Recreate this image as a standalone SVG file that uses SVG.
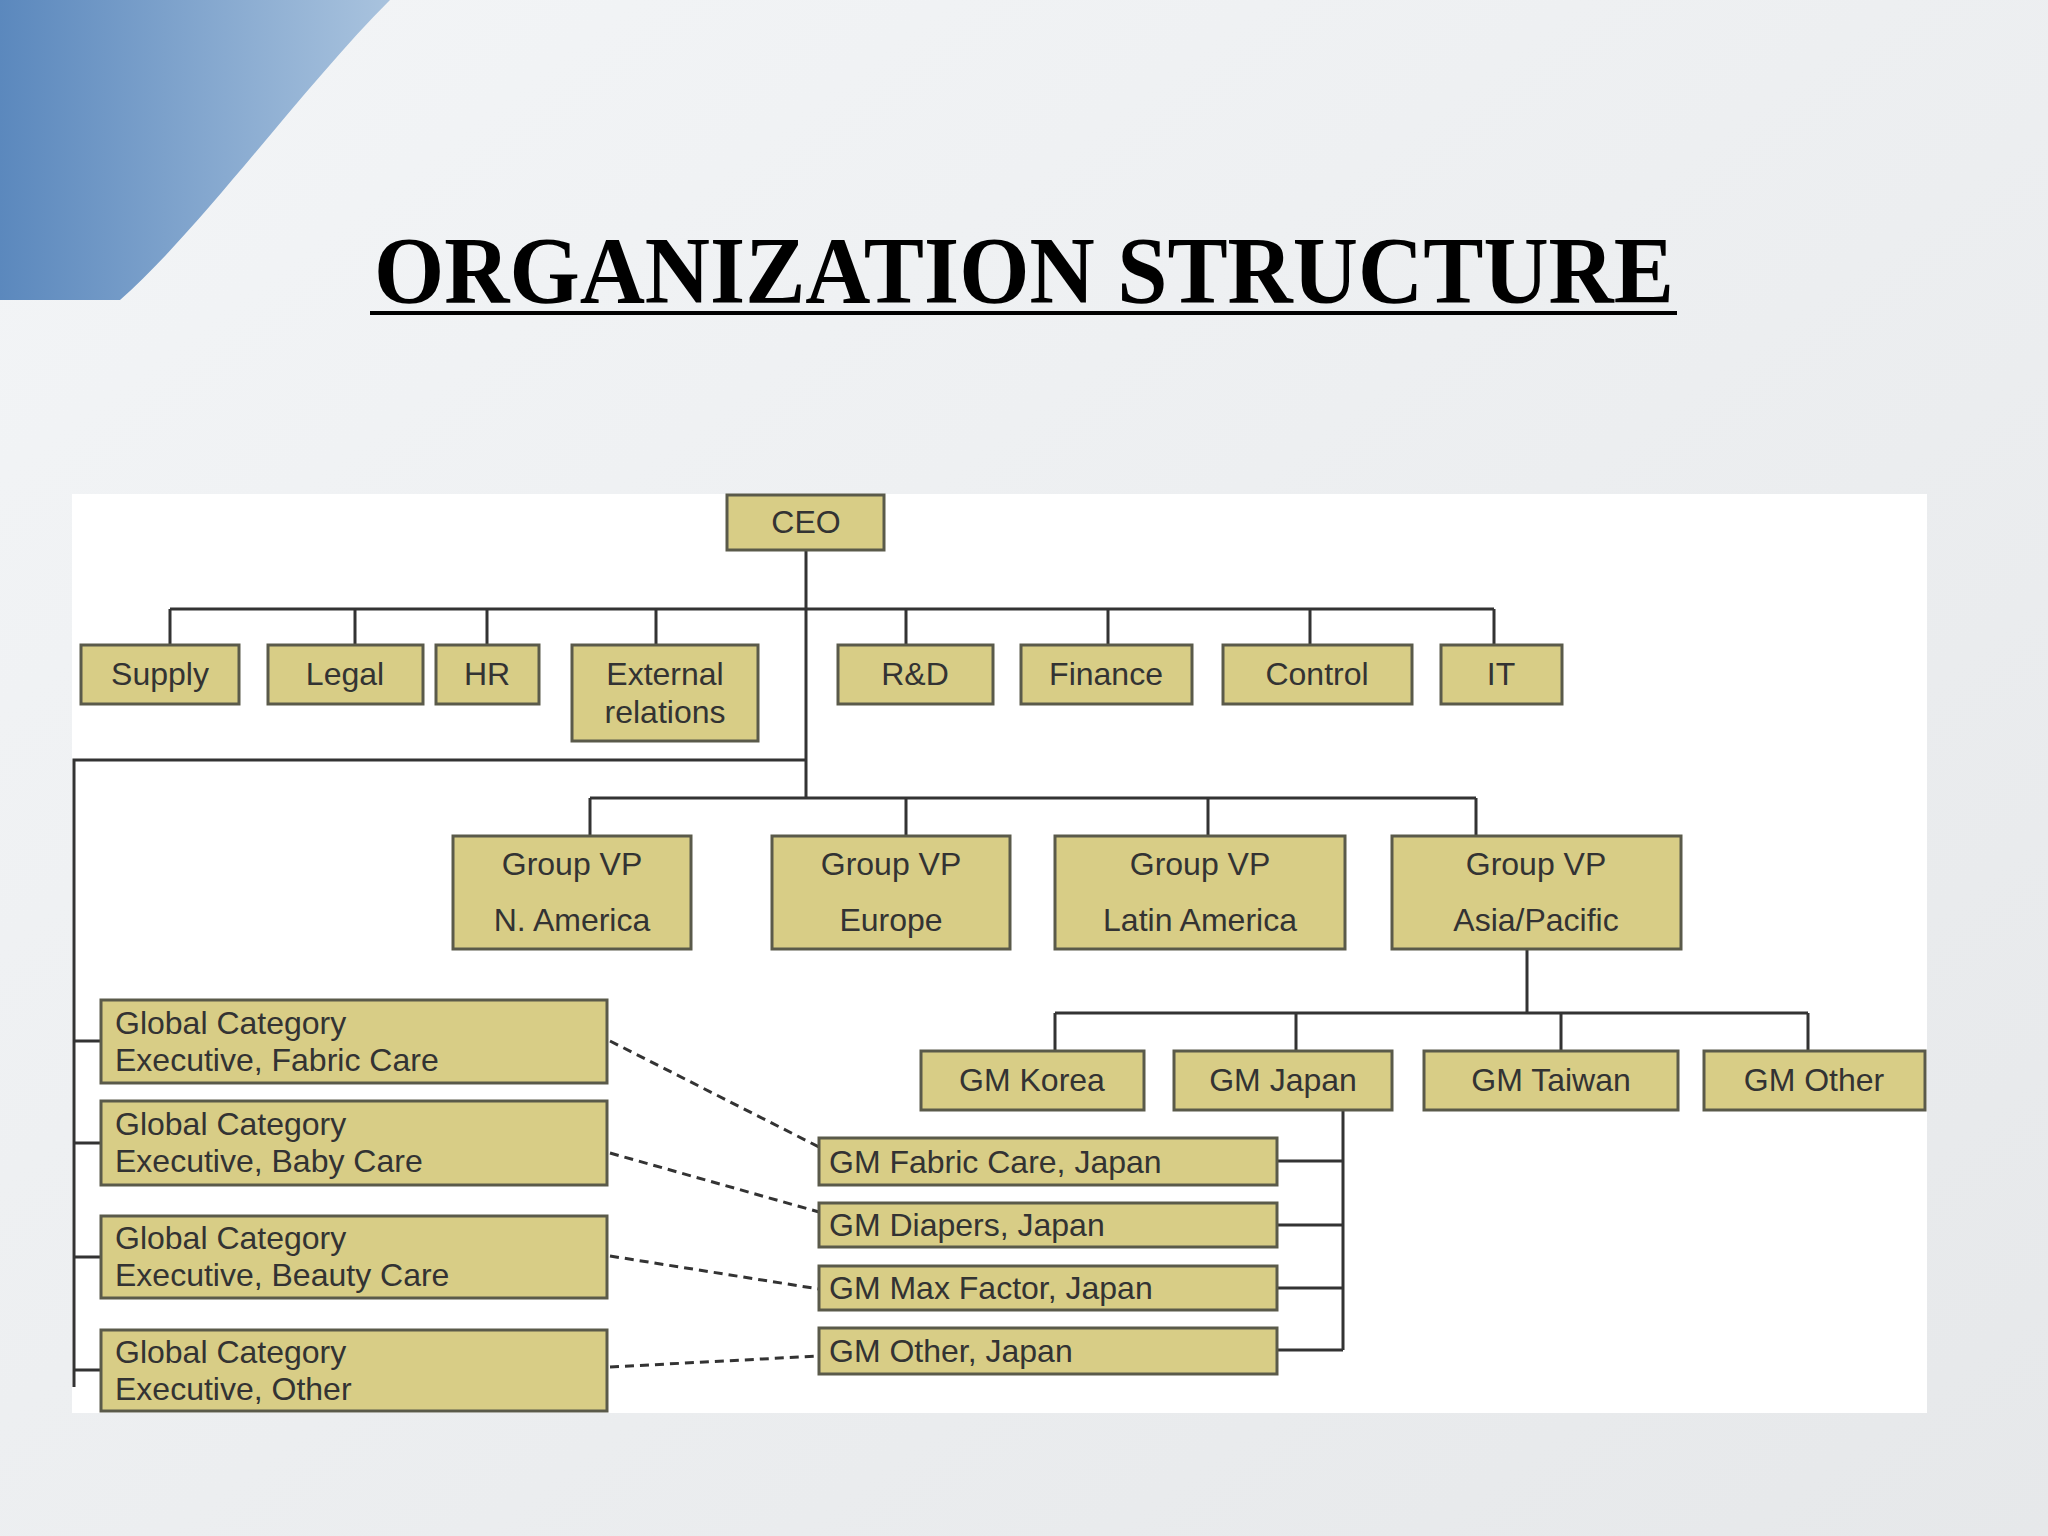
<svg xmlns="http://www.w3.org/2000/svg" width="2048" height="1536" viewBox="0 0 2048 1536">
<defs>
<linearGradient id="bg" x1="0" y1="0" x2="1" y2="1"><stop offset="0" stop-color="#f3f5f7"/><stop offset="1" stop-color="#e6e8ea"/></linearGradient>
<linearGradient id="sw" x1="0" y1="0" x2="1" y2="0"><stop offset="0" stop-color="#5b88bd"/><stop offset="1" stop-color="#a9c3de"/></linearGradient>
<style>
.b{fill:#d8cd86;stroke:#5a5a4a;stroke-width:3}
.t{font-family:"Liberation Sans",Arial,sans-serif;font-size:32px;fill:#333;text-anchor:middle}
.l{font-family:"Liberation Sans",Arial,sans-serif;font-size:32px;fill:#333}
.c{stroke:#333;stroke-width:3;fill:none}
.d{stroke:#333;stroke-width:3;fill:none;stroke-dasharray:9,6}
</style>
</defs>
<rect width="2048" height="1536" fill="url(#bg)"/>
<path d="M0 0 H390 C300 90 200 230 120 300 H0 Z" fill="url(#sw)"/>
<rect x="72" y="494" width="1855" height="919" fill="#fff"/>
<text x="1024" y="303" text-anchor="middle" font-family="Liberation Serif,serif" font-weight="bold" font-size="96" textLength="1300" lengthAdjust="spacingAndGlyphs" fill="#000">ORGANIZATION STRUCTURE</text>
<line x1="370" y1="313" x2="1677" y2="313" stroke="#000" stroke-width="4"/>
<g id="connectors">
<path class="c" d="M806 550 V798 M170 609 H1494 M170 609 V645 M355 609 V645 M487 609 V645 M656 609 V645 M906 609 V645 M1108 609 V645 M1310 609 V645 M1494 609 V645"/>
<path class="c" d="M806 760 H74 V1387 M590 798 H1476 M590 798 V836 M906 798 V836 M1208 798 V836 M1476 798 V836"/>
<path class="c" d="M1527 949 V1013 M1055 1013 H1808 M1055 1013 V1051 M1296 1013 V1051 M1561 1013 V1051 M1808 1013 V1051"/>
<path class="c" d="M1343 1110 V1350 M1277 1161 H1343 M1277 1225 H1343 M1277 1288 H1343 M1277 1350 H1343"/>
<path class="c" d="M74 1041 H101 M74 1143 H101 M74 1257 H101 M74 1370 H101"/>
<path class="d" d="M610 1041 L819 1147 M610 1153 L819 1212 M610 1256 L819 1289 M610 1367 L819 1356"/>
</g>
<g id="ceo"><rect class="b" x="727" y="495" width="157" height="55"/><text class="t" x="806" y="533">CEO</text></g>
<g id="supply"><rect class="b" x="81" y="645" width="158" height="59"/><text class="t" x="160" y="685">Supply</text></g>
<g id="legal"><rect class="b" x="268" y="645" width="155" height="59"/><text class="t" x="345" y="685">Legal</text></g>
<g id="hr"><rect class="b" x="436" y="645" width="103" height="59"/><text class="t" x="487" y="685">HR</text></g>
<g id="ext"><rect class="b" x="572" y="645" width="186" height="96"/><text class="t" x="665" y="685">External</text><text class="t" x="665" y="723">relations</text></g>
<g id="rd"><rect class="b" x="838" y="645" width="155" height="59"/><text class="t" x="915" y="685">R&amp;D</text></g>
<g id="finance"><rect class="b" x="1021" y="645" width="171" height="59"/><text class="t" x="1106" y="685">Finance</text></g>
<g id="control"><rect class="b" x="1223" y="645" width="189" height="59"/><text class="t" x="1317" y="685">Control</text></g>
<g id="it"><rect class="b" x="1441" y="645" width="121" height="59"/><text class="t" x="1501" y="685">IT</text></g>
<g id="vpna"><rect class="b" x="453" y="836" width="238" height="113"/><text class="t" x="572" y="875">Group VP</text><text class="t" x="572" y="931">N. America</text></g>
<g id="vpeu"><rect class="b" x="772" y="836" width="238" height="113"/><text class="t" x="891" y="875">Group VP</text><text class="t" x="891" y="931">Europe</text></g>
<g id="vpla"><rect class="b" x="1055" y="836" width="290" height="113"/><text class="t" x="1200" y="875">Group VP</text><text class="t" x="1200" y="931">Latin America</text></g>
<g id="vpap"><rect class="b" x="1392" y="836" width="289" height="113"/><text class="t" x="1536" y="875">Group VP</text><text class="t" x="1536" y="931">Asia/Pacific</text></g>
<g id="gmkr"><rect class="b" x="921" y="1051" width="223" height="59"/><text class="t" x="1032" y="1091">GM Korea</text></g>
<g id="gmjp"><rect class="b" x="1174" y="1051" width="218" height="59"/><text class="t" x="1283" y="1091">GM Japan</text></g>
<g id="gmtw"><rect class="b" x="1424" y="1051" width="254" height="59"/><text class="t" x="1551" y="1091">GM Taiwan</text></g>
<g id="gmot"><rect class="b" x="1704" y="1051" width="221" height="59"/><text class="t" x="1814" y="1091">GM Other</text></g>
<g id="gmfc"><rect class="b" x="819" y="1138" width="458" height="47"/><text class="l" x="829" y="1173">GM Fabric Care, Japan</text></g>
<g id="gmdi"><rect class="b" x="819" y="1203" width="458" height="44"/><text class="l" x="829" y="1236">GM Diapers, Japan</text></g>
<g id="gmmf"><rect class="b" x="819" y="1266" width="458" height="44"/><text class="l" x="829" y="1299">GM Max Factor, Japan</text></g>
<g id="gmoj"><rect class="b" x="819" y="1328" width="458" height="46"/><text class="l" x="829" y="1362">GM Other, Japan</text></g>
<g id="gcfc"><rect class="b" x="101" y="1000" width="506" height="83"/><text class="l" x="115" y="1034">Global Category</text><text class="l" x="115" y="1071">Executive, Fabric Care</text></g>
<g id="gcbc"><rect class="b" x="101" y="1101" width="506" height="84"/><text class="l" x="115" y="1135">Global Category</text><text class="l" x="115" y="1172">Executive, Baby Care</text></g>
<g id="gcbe"><rect class="b" x="101" y="1216" width="506" height="82"/><text class="l" x="115" y="1249">Global Category</text><text class="l" x="115" y="1286">Executive, Beauty Care</text></g>
<g id="gcot"><rect class="b" x="101" y="1330" width="506" height="81"/><text class="l" x="115" y="1363">Global Category</text><text class="l" x="115" y="1400">Executive, Other</text></g>
</svg>
